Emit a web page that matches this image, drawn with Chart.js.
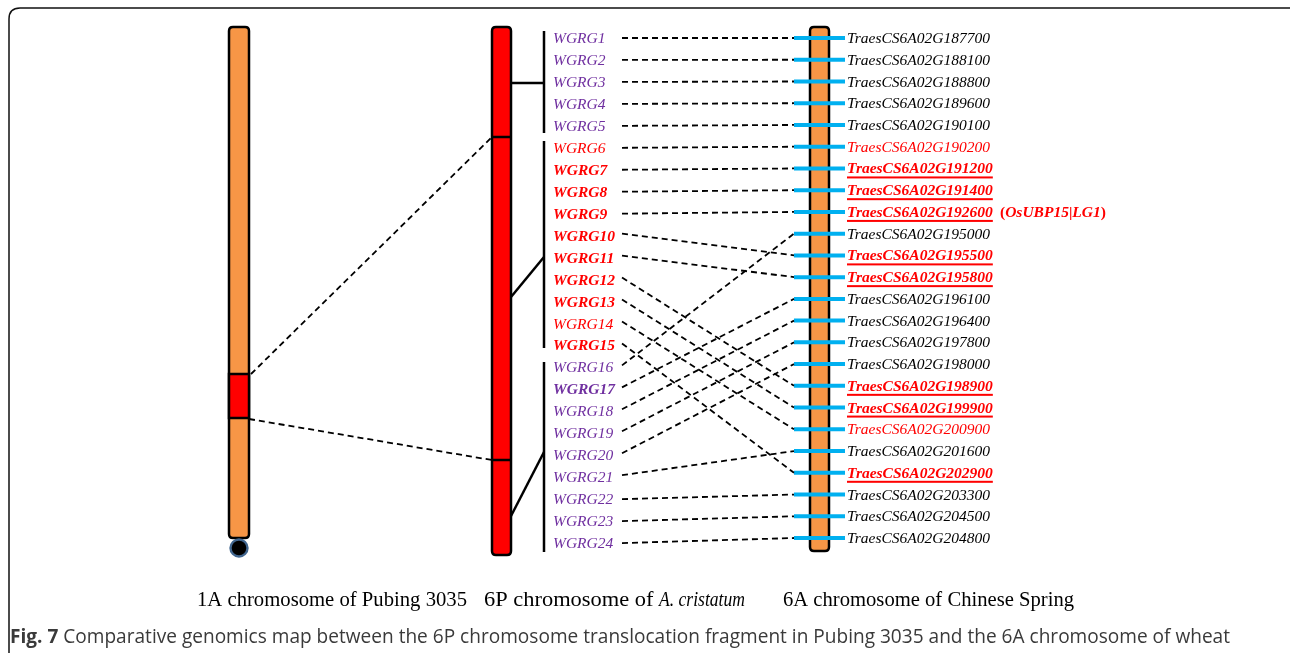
<!DOCTYPE html>
<html>
<head>
<meta charset="utf-8">
<script src="https://cdn.jsdelivr.net/npm/chart.js@4/dist/chart.umd.min.js"></script>
<style>
  html, body { margin: 0; padding: 0; background: #fff; }
  #wrap { width: 1290px; height: 653px; position: relative; }
</style>
</head>
<body>
<div id="wrap"><canvas id="map"></canvas></div>
<script>
//=============================
// DATA
//=============================

const wgrgLabels = [
  "WGRG1","WGRG2","WGRG3","WGRG4","WGRG5","WGRG6","WGRG7","WGRG8",
  "WGRG9","WGRG10","WGRG11","WGRG12","WGRG13","WGRG14","WGRG15","WGRG16",
  "WGRG17","WGRG18","WGRG19","WGRG20","WGRG21","WGRG22","WGRG23","WGRG24"
];

// p = purple, r = red
const wgrgColor = ["p","p","p","p","p","r","r","r","r","r","r","r","r","r","r","p","p","p","p","p","p","p","p","p"];
const wgrgBold  = [0,0,0,0,0,0,1,1,1,1,1,1,1,0,1,0,1,0,0,0,0,0,0,0];

const geneLabels = [
  "TraesCS6A02G187700","TraesCS6A02G188100","TraesCS6A02G188800","TraesCS6A02G189600",
  "TraesCS6A02G190100","TraesCS6A02G190200","TraesCS6A02G191200","TraesCS6A02G191400",
  "TraesCS6A02G192600","TraesCS6A02G195000","TraesCS6A02G195500","TraesCS6A02G195800",
  "TraesCS6A02G196100","TraesCS6A02G196400","TraesCS6A02G197800","TraesCS6A02G198000",
  "TraesCS6A02G198900","TraesCS6A02G199900","TraesCS6A02G200900","TraesCS6A02G201600",
  "TraesCS6A02G202900","TraesCS6A02G203300","TraesCS6A02G204500","TraesCS6A02G204800"
];

// 0 = plain black, 1 = red, 2 = red bold underlined
const geneStyle = [0,0,0,0,0,1,2,2,2,0,2,2,0,0,0,0,2,2,1,0,2,0,0,0];

// WGRG index -> gene row on 6A
const links = [0,1,2,3,4,5,6,7,8,10,11,16,17,18,20,9,12,13,14,15,19,21,22,23];

// groups of WGRG genes on the 6P bracket (first, last)
const groups = [[0,4],[5,14],[15,23]];

const chromLabels = ["1A chromosome of Pubing 3035", "6P chromosome of ", "A. cristatum", "6A chromosome of Chinese Spring"];
const captionBold = "Fig. 7";
const captionText = " Comparative genomics map between the 6P chromosome translocation fragment in Pubing 3035 and the 6A chromosome of wheat";

//=============================
// LAYOUT
//=============================

const PURPLE = "#7030A0";
const RED = "#FF0000";
const ORANGE = "#F79646";
const BLUE = "#00B0F0";

const wgrgY = i => 38 + i * 21.96;
const geneY = i => 38 + i * 21.74;

const LINK_X0 = 622, LINK_X1 = 794;
const BAR_X0 = 794, BAR_X1 = 845;
const BRACKET_X = 544;
const DASH = [6,4];

//=============================
// DATASETS
//=============================

function seg(x0, y0, x1, y1, color, width, dash){
  return {
    type: "line",
    data: [{x:x0, y:y0}, {x:x1, y:y1}],
    borderColor: color,
    borderWidth: width,
    borderDash: dash || [],
    pointRadius: 0,
    fill: false,
    clip: false,
    tension: 0
  };
}

const datasets = [];

// 1A -> 6P dashed
datasets.push(seg(251, 374, 492, 137, "#000", 1.8, DASH));
datasets.push(seg(249, 419, 492, 460, "#000", 1.8, DASH));

// WGRG -> 6A dashed
links.forEach((row, i) => {
  const same = row === i;
  datasets.push(seg(LINK_X0, wgrgY(i) - (same ? 0 : 2), LINK_X1, geneY(row), "#000", 1.8, DASH));
});

// brackets
const bracketTop = [31, 141, 362];
const bracketBot = [133, 348, 552];
const connFrom = [83, 297, 516];
const connTo = [83, 257, 452];
groups.forEach((g, k) => {
  datasets.push(seg(BRACKET_X, bracketTop[k], BRACKET_X, bracketBot[k], "#000", 2.5));
  datasets.push(seg(511, connFrom[k], BRACKET_X, connTo[k], "#000", 2.5));
});

// blue gene bars
geneLabels.forEach((g, j) => {
  datasets.push(seg(BAR_X0, geneY(j), BAR_X1, geneY(j), BLUE, 4));
});

//=============================
// DRAWING PLUGIN
//=============================

function roundRect(ctx, x, y, w, h, r){
  ctx.beginPath();
  ctx.moveTo(x + r, y);
  ctx.lineTo(x + w - r, y);
  ctx.quadraticCurveTo(x + w, y, x + w, y + r);
  ctx.lineTo(x + w, y + h - r);
  ctx.quadraticCurveTo(x + w, y + h, x + w - r, y + h);
  ctx.lineTo(x + r, y + h);
  ctx.quadraticCurveTo(x, y + h, x, y + h - r);
  ctx.lineTo(x, y + r);
  ctx.quadraticCurveTo(x, y, x + r, y);
  ctx.closePath();
}

const mapPlugin = {
  id: "mapPlugin",
  beforeDatasetsDraw(chart){
    const ctx = chart.ctx;
    const X = v => chart.scales.x.getPixelForValue(v);
    const Y = v => chart.scales.y.getPixelForValue(v);
    ctx.save();

    // frame
    ctx.strokeStyle = "#111";
    ctx.lineWidth = 1.5;
    roundRect(ctx, X(9), Y(8), X(1320) - X(9), Y(720) - Y(8), 11);
    ctx.stroke();

    ctx.lineWidth = 2.5;
    ctx.strokeStyle = "#000";

    // 1A chromosome
    roundRect(ctx, X(229), Y(27), X(249) - X(229), Y(538) - Y(27), 4);
    ctx.fillStyle = ORANGE; ctx.fill(); ctx.stroke();
    ctx.fillStyle = RED;
    ctx.fillRect(X(229), Y(374), X(249) - X(229), Y(418) - Y(374));
    ctx.strokeRect(X(229), Y(374), X(249) - X(229), Y(418) - Y(374));
    ctx.beginPath();
    ctx.arc(X(239), Y(548), 8.5, 0, Math.PI * 2);
    ctx.fillStyle = "#000"; ctx.fill();
    ctx.strokeStyle = "#41668F"; ctx.lineWidth = 2.4; ctx.stroke();

    // 6P chromosome
    ctx.strokeStyle = "#000"; ctx.lineWidth = 2.5;
    roundRect(ctx, X(492), Y(27), X(511) - X(492), Y(555) - Y(27), 4);
    ctx.fillStyle = RED; ctx.fill(); ctx.stroke();
    [137, 460].forEach(v => {
      ctx.beginPath(); ctx.moveTo(X(492), Y(v)); ctx.lineTo(X(511), Y(v)); ctx.stroke();
    });

    // 6A chromosome
    roundRect(ctx, X(810), Y(27), X(829) - X(810), Y(551) - Y(27), 4);
    ctx.fillStyle = ORANGE; ctx.fill(); ctx.stroke();

    ctx.restore();
  },
  afterDatasetsDraw(chart){
    const ctx = chart.ctx;
    const X = v => chart.scales.x.getPixelForValue(v);
    const Y = v => chart.scales.y.getPixelForValue(v);
    ctx.save();
    ctx.textBaseline = "middle";
    ctx.textAlign = "left";

    // WGRG labels
    wgrgLabels.forEach((t, i) => {
      ctx.font = "italic " + (wgrgBold[i] ? "bold " : "") + "15.5px 'Liberation Serif'";
      ctx.fillStyle = wgrgColor[i] === "r" ? RED : PURPLE;
      ctx.fillText(t, X(553), Y(wgrgY(i)) + 1);
    });

    // gene labels
    geneLabels.forEach((t, j) => {
      const st = geneStyle[j];
      ctx.font = "italic " + (st === 2 ? "bold " : "") + "15.5px 'Liberation Serif'";
      ctx.fillStyle = st ? RED : "#000";
      const x = X(847), y = Y(geneY(j)) + 1;
      ctx.fillText(t, x, y);
      if (st === 2){
        const w = ctx.measureText(t).width;
        ctx.fillRect(x, y + 7, w, 2);
      }
    });

    // (OsUBP15|LG1)
    let x = X(1000);
    const y9 = Y(geneY(8)) + 1;
    ctx.fillStyle = RED;
    [["(", "bold "], ["OsUBP15", "italic bold "], ["|", "bold "], ["LG1", "italic bold "], [")", "bold "]].forEach(p => {
      ctx.font = p[1] + "15.5px 'Liberation Serif'";
      ctx.fillText(p[0], x, y9);
      x += ctx.measureText(p[0]).width;
    });

    // chromosome names
    ctx.fillStyle = "#000";
    const fitText = (t, x0, x1, y, font) => {
      ctx.font = font;
      const w = ctx.measureText(t).width;
      ctx.save();
      ctx.translate(x0, y);
      ctx.scale((x1 - x0) / w, 1);
      ctx.fillText(t, 0, 0);
      ctx.restore();
    };
    fitText(chromLabels[0], X(197), X(467), Y(601), "20.5px 'Liberation Serif'");
    fitText(chromLabels[1], X(484), X(659), Y(601), "20.5px 'Liberation Serif'");
    fitText(chromLabels[2], X(659), X(745), Y(601), "italic 20.5px 'Liberation Serif'");
    fitText(chromLabels[3], X(783), X(1074), Y(601), "20.5px 'Liberation Serif'");

    // caption
    ctx.fillStyle = "#3a3a3a";
    ctx.font = "bold 20px 'Open Sans'";
    const wb = ctx.measureText(captionBold).width;
    ctx.font = "20px 'Open Sans'";
    const wt = ctx.measureText(captionText).width;
    const s = (X(1230) - X(10)) / (wb + wt);
    ctx.save();
    ctx.translate(X(10), Y(637));
    ctx.scale(s, 1);
    ctx.font = "bold 20px 'Open Sans'";
    ctx.fillText(captionBold, 0, 0);
    ctx.font = "20px 'Open Sans'";
    ctx.fillText(captionText, wb, 0);
    ctx.restore();

    ctx.restore();
  }
};

//=============================
// CHART
//=============================

new Chart(document.getElementById("map"), {
  type: "scatter",
  data: { datasets: datasets },
  options: {
    responsive: true,
    maintainAspectRatio: false,
    animation: false,
    layout: { padding: 0 },
    plugins: { legend: { display: false }, tooltip: { enabled: false } },
    scales: {
      x: { type: "linear", min: 0, max: 1290, display: false },
      y: { type: "linear", min: 0, max: 653, reverse: true, display: false }
    }
  },
  plugins: [mapPlugin]
});
</script>
</body>
</html>
